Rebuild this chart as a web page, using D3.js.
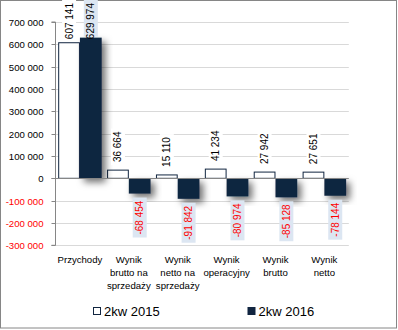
<!DOCTYPE html>
<html><head><meta charset="utf-8">
<script src="https://cdn.jsdelivr.net/npm/d3@7"></script>
<style>body{margin:0;background:#fff}svg{display:block}text{font-family:"Liberation Sans",Arial,sans-serif}</style>
</head><body><svg id="c" width="398" height="330"></svg>
<script>
const categories = [["Przychody"],["Wynik","brutto na","sprzedaży"],["Wynik","netto na","sprzedaży"],["Wynik","operacyjny"],["Wynik","brutto"],["Wynik","netto"]];
const seriesNames = ["2kw 2015","2kw 2016"];
const values2015 = [607141, 36664, 15110, 41234, 27942, 27651];
const values2016 = [629974, -68454, -91842, -80974, -85128, -78144];
const yTicks = [-300000,-200000,-100000,0,100000,200000,300000,400000,500000,600000,700000];

const svg = d3.select("#c");
const navy = "#112540";
const defs = svg.append("defs");
const f = defs.append("filter").attr("id","sh").attr("x","-50%").attr("y","-50%").attr("width","200%").attr("height","200%");
f.append("feDropShadow").attr("dx",4).attr("dy",4).attr("stdDeviation",3.5).attr("flood-color","#000").attr("flood-opacity",0.55);

svg.append("rect").attr("x",0.5).attr("y",0.5).attr("width",396).attr("height",327.5).attr("fill","#fff").attr("stroke","#868686");

const y = d3.scaleLinear().domain([-300000,700000]).range([245.3,22]);
const keys = categories.map((c,i)=>i);
const x0 = d3.scaleBand().domain(keys).range([55.5,348.8]).paddingInner(0.11).paddingOuter(0.055);
const x1 = d3.scaleBand().domain(seriesNames).range([0,x0.bandwidth()]);
const fmt = v => (v<0?"-":"") + d3.format(",")(Math.abs(v)).replace(/,/g," ");

// gridlines
svg.append("g").selectAll("line").data(yTicks.filter(t=>t!==0)).join("line")
  .attr("x1",55.5).attr("x2",348.8).attr("y1",d=>Math.round(y(d))+0.5).attr("y2",d=>Math.round(y(d))+0.5)
  .attr("stroke","#d9d9d9").attr("stroke-width",1);

// y axis
const ax = svg.append("g").attr("transform","translate(55.5,0)")
  .call(d3.axisLeft(y).tickValues(yTicks).tickSize(4).tickPadding(8).tickFormat(fmt));
ax.select(".domain").attr("stroke","#868686").attr("d",`M-4,${y(700000)}H0V${y(-300000)}H-4`);
ax.selectAll(".tick line").attr("stroke","#868686");
ax.selectAll(".tick").attr("transform",d=>`translate(0,${Math.round(y(d))+0.5})`);
ax.selectAll(".tick text").attr("font-size","9.6px").attr("font-family","Liberation Sans, Arial, sans-serif")
  .attr("fill",d=>d<0?"#ff0000":"#000");

// bars
const data2015 = values2015.map((v,i)=>({i,v,s:seriesNames[0]}));
const data2016 = values2016.map((v,i)=>({i,v,s:seriesNames[1]}));
svg.append("g").selectAll("rect").data(data2015).join("rect")
  .attr("x",d=>x0(d.i)+x1(d.s)+0.5).attr("width",x1.bandwidth()-1)
  .attr("y",d=>Math.min(y(d.v),y(0))).attr("height",d=>Math.abs(y(d.v)-y(0)))
  .attr("fill","#fff").attr("stroke",navy).attr("stroke-width",1);
svg.append("g").selectAll("rect").data(data2016).join("rect")
  .attr("x",d=>x0(d.i)+x1(d.s)).attr("width",x1.bandwidth())
  .attr("y",d=>Math.min(y(d.v),y(0))).attr("height",d=>Math.abs(y(d.v)-y(0)))
  .attr("fill",navy).attr("filter","url(#sh)");

// zero line
svg.append("line").attr("x1",51.5).attr("x2",348.8).attr("y1",Math.round(y(0))+0.5).attr("y2",Math.round(y(0))+0.5)
  .attr("stroke","#868686");

// labels
function drawLabels(data, bg, colorFn){
  const g = svg.append("g");
  data.forEach(d=>{
    const cx = x0(d.i)+x1(d.s)+x1.bandwidth()/2;
    const lg = g.append("g");
    const rect = lg.append("rect").attr("fill",bg);
    const t = lg.append("text").attr("font-size","10px").attr("fill",colorFn(d.v)).text(fmt(d.v));
    const len = t.node().getComputedTextLength();
    let top, bottom;
    if (d.v >= 0){
      bottom = y(d.v) - 8; top = bottom - len;
      if (top < 3){ top = 3; bottom = top + len; }
    } else {
      top = y(d.v) + 7; bottom = top + len;
    }
    t.attr("transform",`translate(${cx + 3.5},${bottom}) rotate(-90)`);
    const bt = d.v>500000 ? 0 : top-3;
    const bb = d.v>500000 ? Math.min(bottom+1, y(d.v)-1) : bottom+3;
    rect.attr("x",cx-7).attr("width",14).attr("y",bt).attr("height",bb-bt);
  });
}
drawLabels(data2015, "#fff", v=>"#000");
drawLabels(data2016, "#dce6f2", v=>v<0?"#ff0000":"#000");

// category labels
const cg = svg.append("g");
categories.forEach((lines,i)=>{
  const t = cg.append("text").attr("x",x0(i)+x0.bandwidth()/2).attr("y",262.5).attr("text-anchor","middle")
    .attr("font-size","9.6px").attr("fill","#000");
  lines.forEach((l,k)=>t.append("tspan").attr("x",x0(i)+x0.bandwidth()/2).attr("dy",k?"13":0).text(l));
});

// legend
const legX = [93, 247.5];
seriesNames.forEach((n,k)=>{
  svg.append("rect").attr("x",legX[k]+0.5).attr("y",307.5).attr("width",7).attr("height",7)
    .attr("fill",k?navy:"#fff").attr("stroke",navy);
  svg.append("text").attr("x",legX[k]+11).attr("y",315.5).attr("font-size","13px").attr("fill","#000").text(n);
});
</script></body></html>
